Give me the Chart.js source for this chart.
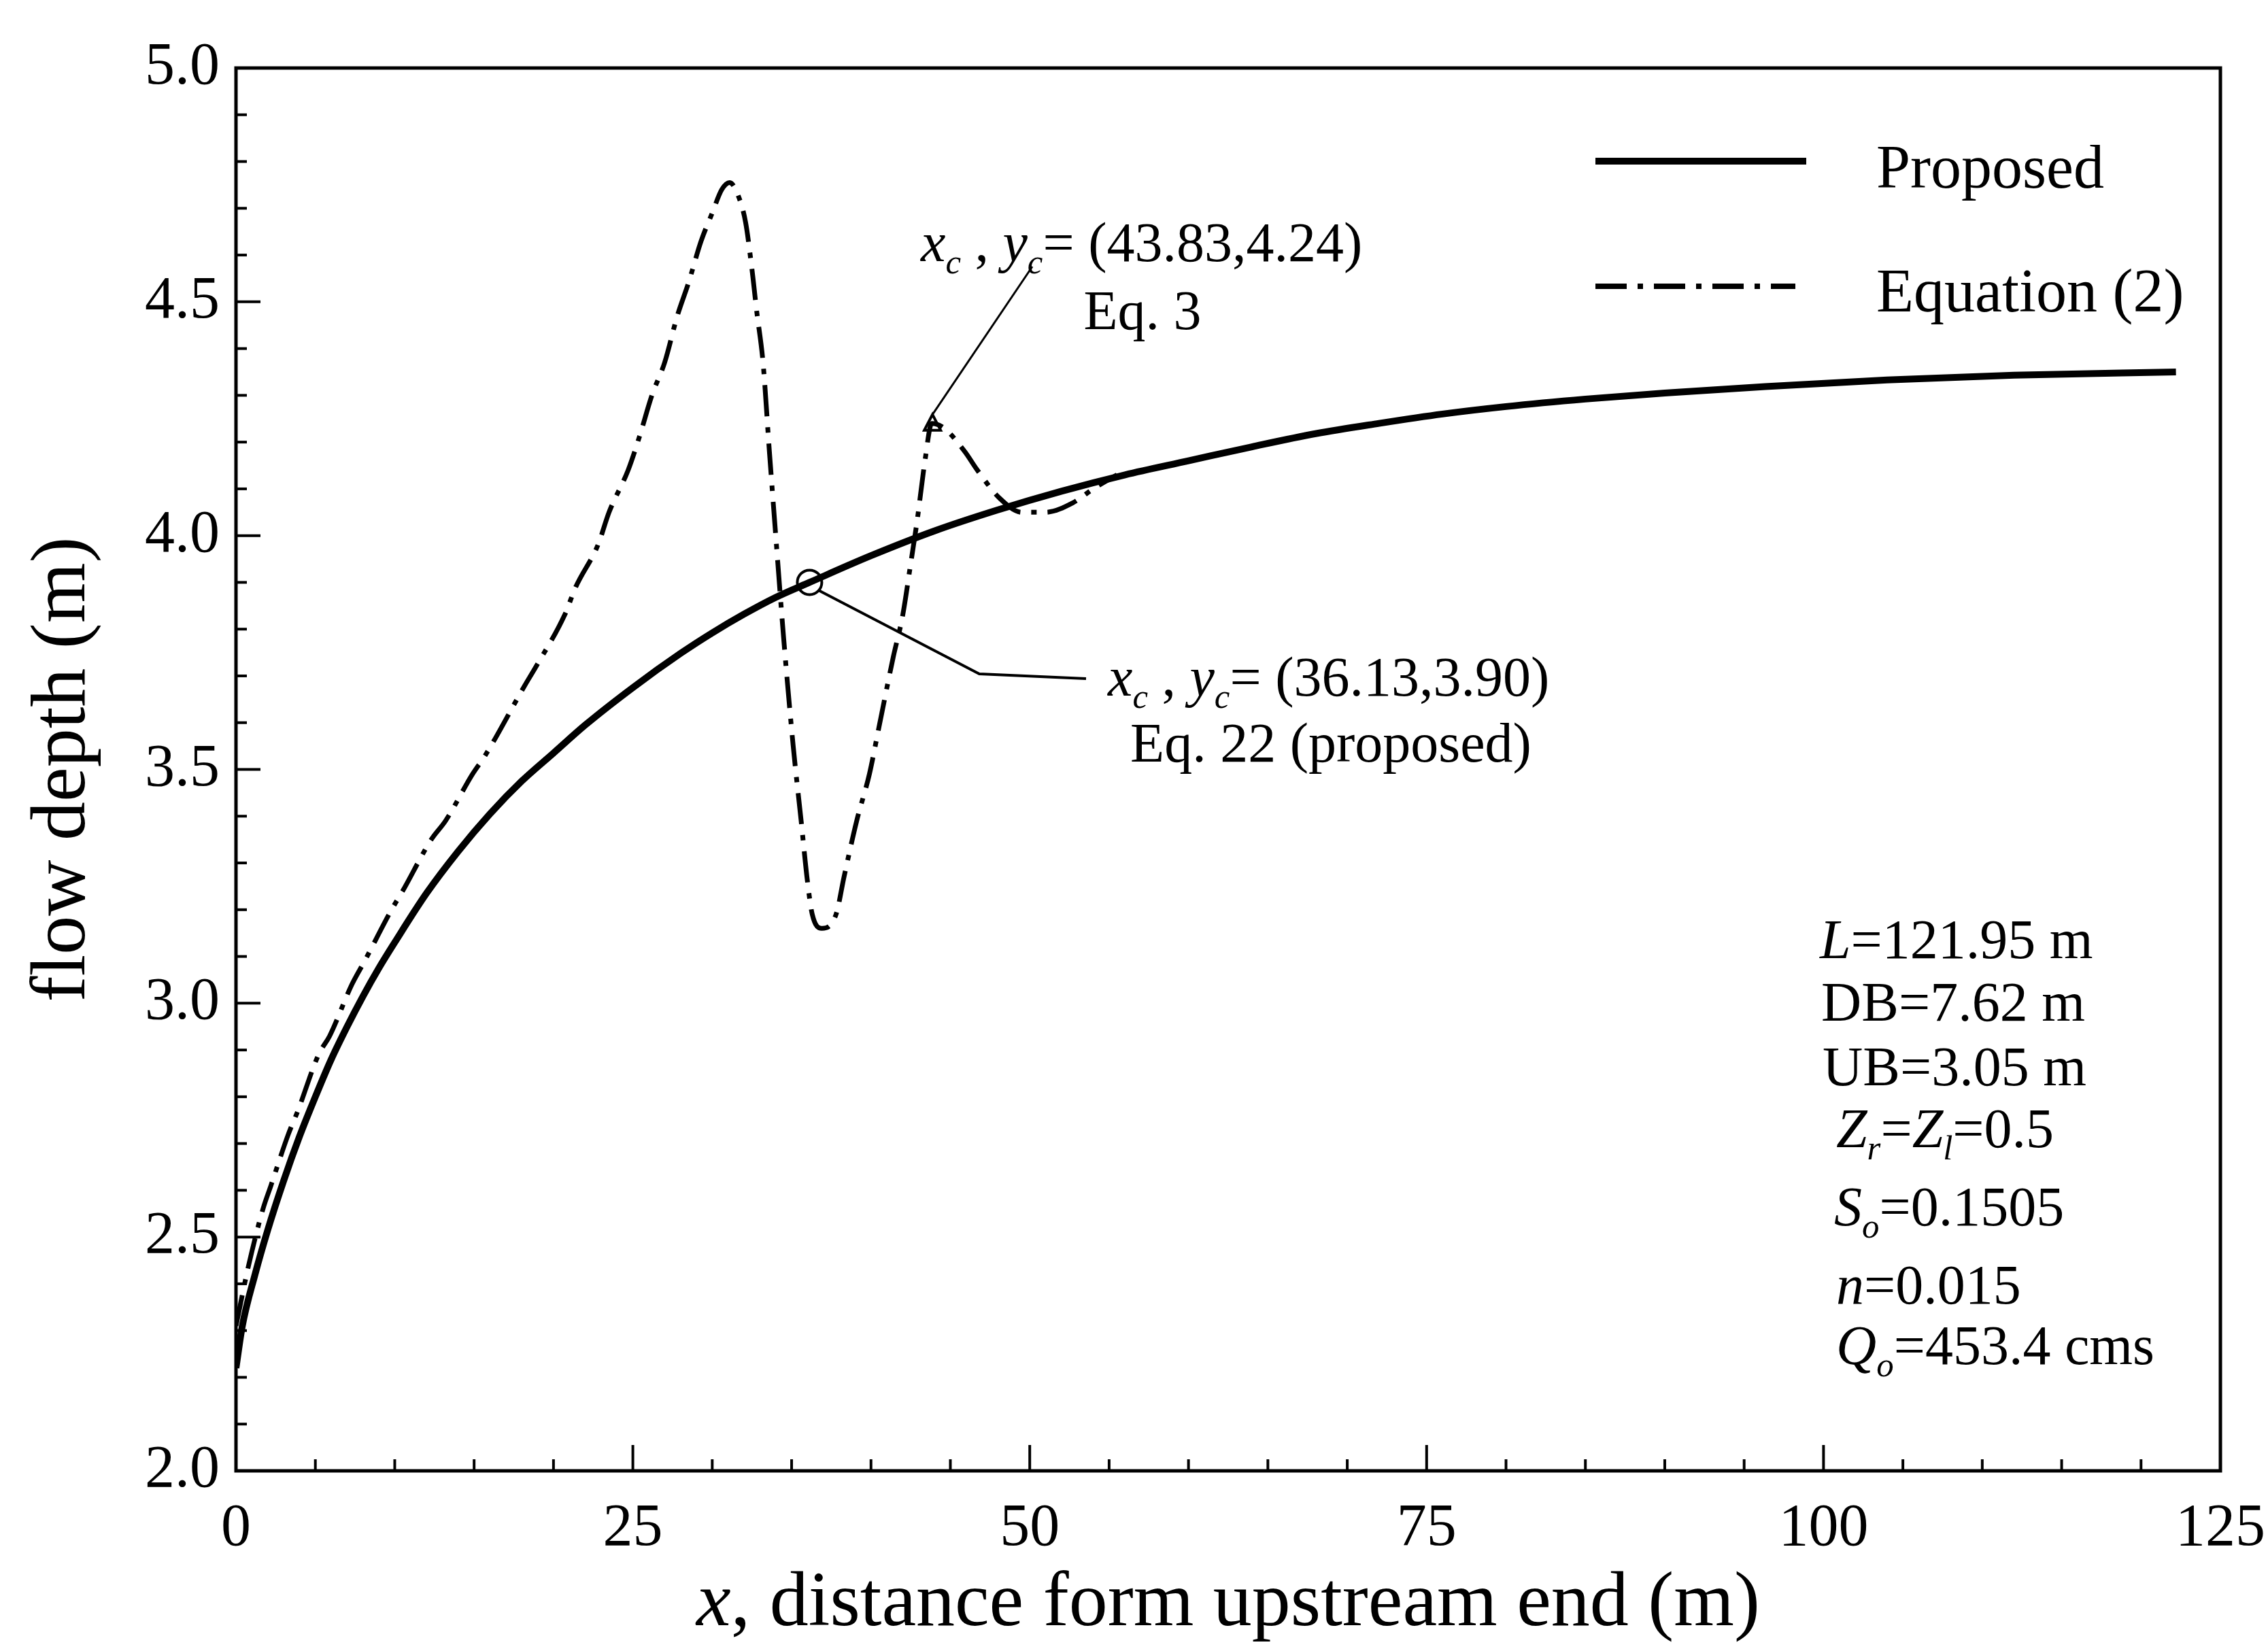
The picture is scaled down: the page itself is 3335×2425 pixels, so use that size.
<!DOCTYPE html>
<html>
<head>
<meta charset="utf-8">
<script src="https://cdn.jsdelivr.net/npm/chart.js@4.4.1/dist/chart.umd.min.js"></script>
<style>
  html, body { margin: 0; padding: 0; background: #fff; }
  canvas { display: block; }
</style>
</head>
<body>
<canvas id="flow-chart" width="3335" height="2425"></canvas>
<script>
// Valores (x em m, profundidade em m)
const proposedX = [0, 0.4, 1.2, 2, 3, 4, 5, 6, 7, 8, 9, 10, 12, 14, 16, 18, 20, 22, 25, 28, 30, 32, 34, 36.13, 40, 44, 48, 52, 56, 60, 64, 68, 72, 76, 80, 85, 90, 96, 104, 112, 122.2];
const proposedY = [2.22, 2.31, 2.42, 2.515, 2.62, 2.715, 2.80, 2.88, 2.95, 3.015, 3.075, 3.13, 3.235, 3.325, 3.405, 3.475, 3.535, 3.595, 3.675, 3.748, 3.792, 3.832, 3.868, 3.90, 3.957, 4.01, 4.055, 4.095, 4.13, 4.16, 4.19, 4.218, 4.24, 4.26, 4.276, 4.292, 4.305, 4.318, 4.333, 4.343, 4.35];

const eq2X = [0, 0.8, 1.7, 2.2, 3.3, 3.9, 5.2, 5.9, 7.3, 8.1, 9.8, 10.5, 12.3, 13.2, 14.9, 15.7, 18.2, 18.9, 20.7, 21.4, 22.8, 23.5, 24.7, 25.4, 26.2, 27.0, 27.8, 28.5, 29.3, 30.0, 30.6, 31.1, 31.6, 32.1, 32.5, 32.8, 33.2, 33.6, 34.0, 34.5, 35.1, 35.6, 36.0, 36.3, 36.9, 37.8, 38.3, 39.1, 39.9, 40.5, 41.4, 42.0, 42.5, 42.9, 43.4, 43.83, 44.6, 45.9, 46.7, 48.1, 49.5, 51.0, 52.7, 54.0, 55.5];
const eq2Y = [2.31, 2.44, 2.56, 2.61, 2.72, 2.77, 2.89, 2.93, 3.04, 3.09, 3.20, 3.24, 3.35, 3.39, 3.49, 3.53, 3.68, 3.72, 3.83, 3.89, 3.98, 4.05, 4.14, 4.21, 4.30, 4.37, 4.47, 4.54, 4.63, 4.69, 4.74, 4.755, 4.73, 4.67, 4.57, 4.48, 4.37, 4.18, 4.00, 3.78, 3.55, 3.39, 3.26, 3.19, 3.16, 3.19, 3.27, 3.39, 3.49, 3.59, 3.74, 3.83, 3.94, 4.03, 4.16, 4.24, 4.23, 4.18, 4.14, 4.08, 4.05, 4.05, 4.07, 4.10, 4.13];

// Pontos críticos anotados
const critEq3 = { x: 43.83, y: 4.24 };
const critProposed = { x: 36.13, y: 3.90 };

// Rótulos dos eixos
const xTicks = [0, 25, 50, 75, 100, 125];
const yTicks = [2.0, 2.5, 3.0, 3.5, 4.0, 4.5, 5.0];

const SERIF = '"Liberation Serif", "Times New Roman", serif';
const EQ2_DASH = [46, 16, 8, 16];

// Desenha texto com partes em itálico e subscrito
const drawRich = (ctx, parts, x, y, size) => {
    let cx = x;
    parts.forEach(p => {
        const s = p.sub ? size * 0.62 : size;
        ctx.font = `${p.it ? 'italic ' : ''}${s}px ${SERIF}`;
        ctx.fillText(p.t, cx, y + (p.sub ? size * 0.22 : 0));
        cx += ctx.measureText(p.t).width;
    });
    return cx;
};

const richWidth = (ctx, parts, size) => {
    let w = 0;
    parts.forEach(p => {
        const s = p.sub ? size * 0.62 : size;
        ctx.font = `${p.it ? 'italic ' : ''}${s}px ${SERIF}`;
        w += ctx.measureText(p.t).width;
    });
    return w;
};

const coordLabel = (vals) => [
    { t: 'x', it: true }, { t: 'c', it: true, sub: true }, { t: ' , ' },
    { t: 'y', it: true }, { t: 'c', it: true, sub: true }, { t: '= ' + vals }
];

const paramLines = [
    { parts: [{ t: 'L', it: true }, { t: '=121.95 m' }], x: 2676, y: 1409 },
    { parts: [{ t: 'DB=7.62 m' }], x: 2678, y: 1501 },
    { parts: [{ t: 'UB=3.05 m' }], x: 2680, y: 1596 },
    { parts: [{ t: 'Z', it: true }, { t: 'r', it: true, sub: true }, { t: '=' }, { t: 'Z', it: true }, { t: 'l', it: true, sub: true }, { t: '=0.5' }], x: 2700, y: 1687 },
    { parts: [{ t: 'S', it: true }, { t: 'o', it: true, sub: true }, { t: '=0.1505' }], x: 2697, y: 1802 },
    { parts: [{ t: 'n', it: true }, { t: '=0.015' }], x: 2700, y: 1917 },
    { parts: [{ t: 'Q', it: true }, { t: 'o', it: true, sub: true }, { t: '=453.4 cms' }], x: 2700, y: 2006 }
];

// Plugin para moldura, ticks internos, legenda e anotações
const figurePlugin = {
    id: 'figure',
    afterDatasetsDraw(chart) {
        const { ctx, chartArea: a, scales: { x, y } } = chart;
        ctx.save();
        ctx.strokeStyle = '#000';
        ctx.fillStyle = '#000';
        ctx.lineCap = 'butt';

        // moldura
        ctx.lineWidth = 5;
        ctx.strokeRect(a.left, a.top, a.right - a.left, a.bottom - a.top);

        // ticks do eixo x (a cada 5, maiores a cada 25)
        ctx.lineWidth = 4;
        for (let v = 0; v <= 125; v += 5) {
            const px = x.getPixelForValue(v);
            const len = v % 25 === 0 ? 38 : 17;
            ctx.beginPath();
            ctx.moveTo(px, a.bottom);
            ctx.lineTo(px, a.bottom - len);
            ctx.stroke();
        }
        // ticks do eixo y (a cada 0.1, maiores a cada 0.5)
        for (let i = 0; i <= 30; i++) {
            const py = y.getPixelForValue(2 + i * 0.1);
            const len = i % 5 === 0 ? 36 : 16;
            ctx.beginPath();
            ctx.moveTo(a.left, py);
            ctx.lineTo(a.left + len, py);
            ctx.stroke();
        }

        // legenda
        ctx.lineWidth = 10;
        ctx.beginPath();
        ctx.moveTo(2346, 237);
        ctx.lineTo(2656, 237);
        ctx.stroke();
        ctx.lineWidth = 8;
        ctx.setLineDash(EQ2_DASH);
        ctx.beginPath();
        ctx.moveTo(2346, 421);
        ctx.lineTo(2640, 421);
        ctx.stroke();
        ctx.setLineDash([]);
        ctx.textBaseline = 'alphabetic';
        ctx.textAlign = 'left';
        ctx.font = `90px ${SERIF}`;
        ctx.fillText('Proposed', 2759, 276);
        ctx.fillText('Equation (2)', 2759, 458);

        // anotação Eq. 3
        const p1x = x.getPixelForValue(critEq3.x);
        const p1y = y.getPixelForValue(critEq3.y);
        ctx.lineWidth = 4;
        ctx.beginPath();
        ctx.moveTo(p1x - 11, p1y + 10);
        ctx.lineTo(p1x + 1, p1y - 13);
        ctx.lineTo(p1x + 13, p1y + 10);
        ctx.closePath();
        ctx.stroke();
        ctx.lineWidth = 3;
        ctx.beginPath();
        ctx.moveTo(p1x + 1, p1y - 13);
        ctx.lineTo(1518, 392);
        ctx.stroke();
        drawRich(ctx, coordLabel('(43.83,4.24)'), 1354, 384, 82);
        ctx.font = `82px ${SERIF}`;
        ctx.textAlign = 'center';
        ctx.fillText('Eq. 3', 1680, 484);

        // anotação Eq. 22 (proposta)
        const p2x = x.getPixelForValue(critProposed.x);
        const p2y = y.getPixelForValue(critProposed.y);
        ctx.lineWidth = 4;
        ctx.beginPath();
        ctx.arc(p2x, p2y, 18, 0, Math.PI * 2);
        ctx.stroke();
        ctx.beginPath();
        ctx.moveTo(p2x + 14, p2y + 12);
        ctx.lineTo(1440, 991);
        ctx.lineTo(1597, 998);
        ctx.stroke();
        ctx.textAlign = 'left';
        drawRich(ctx, coordLabel('(36.13,3.90)'), 1629, 1023, 82);
        ctx.font = `82px ${SERIF}`;
        ctx.textAlign = 'center';
        ctx.fillText('Eq. 22 (proposed)', 1957, 1120);

        // parâmetros do canal
        ctx.textAlign = 'left';
        paramLines.forEach(line => drawRich(ctx, line.parts, line.x, line.y, 82));

        // título do eixo x (com x em itálico)
        const xTitle = [{ t: 'x', it: true }, { t: ', distance form upstream end (m)' }];
        const w = richWidth(ctx, xTitle, 114);
        drawRich(ctx, xTitle, (a.left + a.right) / 2 - w / 2, 2390, 114);

        ctx.restore();
    }
};

const ctx = document.getElementById('flow-chart').getContext('2d');

new Chart(ctx, {
    type: 'line',
    data: {
        datasets: [
            {
                label: 'Proposed',
                data: proposedX.map((v, i) => ({ x: v, y: proposedY[i] })),
                borderColor: '#000',
                borderWidth: 10,
                pointRadius: 0,
                fill: false,
                cubicInterpolationMode: 'monotone'
            },
            {
                label: 'Equation (2)',
                data: eq2X.map((v, i) => ({ x: v, y: eq2Y[i] })),
                borderColor: '#000',
                borderWidth: 7,
                borderDash: EQ2_DASH,
                pointRadius: 0,
                fill: false,
                cubicInterpolationMode: 'monotone'
            }
        ]
    },
    options: {
        responsive: false,
        devicePixelRatio: 1,
        animation: false,
        layout: { padding: { top: 100, right: 70, bottom: 0, left: 0 } },
        plugins: {
            legend: { display: false },
            tooltip: { enabled: false }
        },
        scales: {
            x: {
                type: 'linear',
                min: 0,
                max: 125,
                afterBuildTicks: (scale) => { scale.ticks = xTicks.map(v => ({ value: v })); },
                afterFit: (scale) => {
                    scale.height = 262;
                    // o rótulo "125" não deve encolher a área do gráfico
                    scale.paddingLeft = 0;
                    scale.paddingRight = 0;
                },
                grid: { display: false, drawTicks: false },
                border: { display: false },
                ticks: {
                    padding: 33,
                    maxRotation: 0,
                    autoSkip: false,
                    color: '#000',
                    font: { family: SERIF, size: 88 },
                    callback: (v) => String(v)
                }
            },
            y: {
                type: 'linear',
                min: 2,
                max: 5,
                afterBuildTicks: (scale) => { scale.ticks = yTicks.map(v => ({ value: v })); },
                afterFit: (scale) => {
                    scale.width = 347;
                    scale.paddingTop = 0;
                    scale.paddingBottom = 0;
                },
                grid: { display: false, drawTicks: false },
                border: { display: false },
                ticks: {
                    padding: 24,
                    autoSkip: false,
                    color: '#000',
                    font: { family: SERIF, size: 88 },
                    callback: (v) => Number(v).toFixed(1)
                },
                title: {
                    display: true,
                    text: 'flow depth (m)',
                    color: '#000',
                    font: { family: SERIF, size: 114 },
                    padding: { top: 26, bottom: 0 }
                }
            }
        }
    },
    plugins: [figurePlugin]
});
</script>
</body>
</html>
